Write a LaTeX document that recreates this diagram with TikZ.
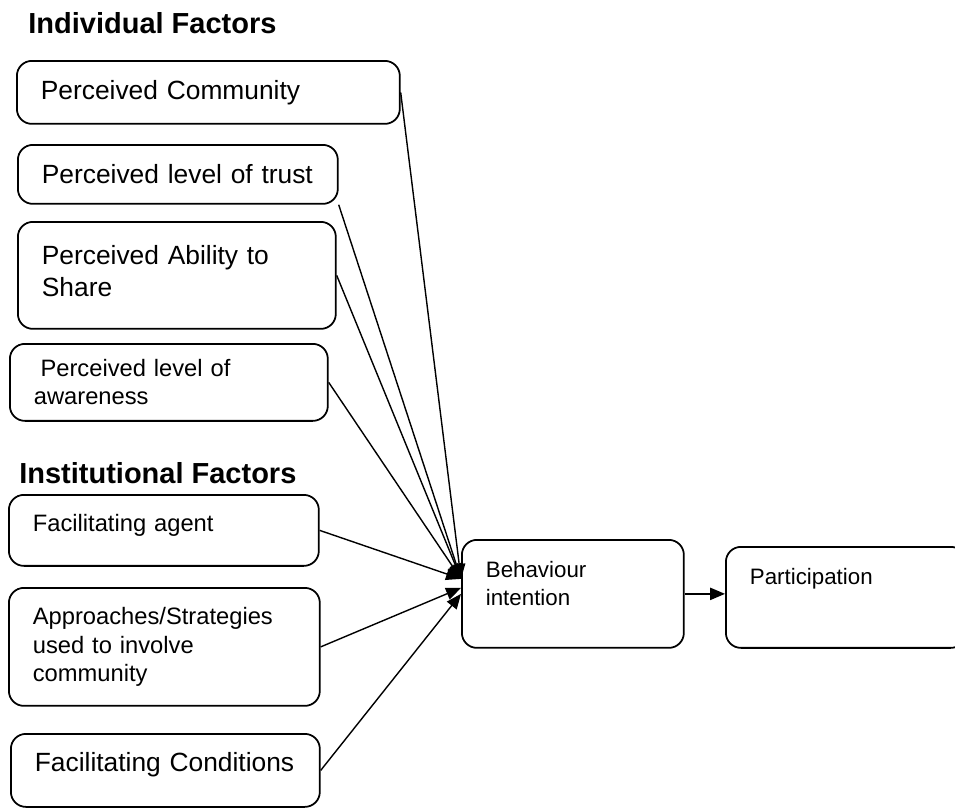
\documentclass[tikz,border=0pt]{standalone}
\usepackage{fontspec}
\setmainfont{Liberation Sans}
\usetikzlibrary{positioning}
\usetikzlibrary{arrows.meta,shapes}
\tikzstyle{factor}=[draw, rounded corners=0.3cm, line width=1pt, anchor=north west, align=left, inner xsep=0.48cm, inner ysep=0pt]
\tikzstyle{heading}=[anchor=base west, inner sep=0pt, font=\fontsize{16.5}{20}\selectfont\bfseries]
\tikzstyle{bigtext}=[font=\fontsize{15}{18.7}\selectfont]
\tikzstyle{midtext}=[font=\fontsize{13.5}{16}\selectfont]
\tikzstyle{smalltext}=[font=\fontsize{12.7}{15.9}\selectfont]
\tikzstyle{link}=[-{Triangle[length=8.5pt,width=7pt]}, line width=0.8pt]

\begin{document}
\begin{tikzpicture}[x=0.02cm, y=-0.02cm]
  \useasboundingbox (0,0) rectangle (955,808);
  \clip (0,0) rectangle (955,808);

  \node[heading] (indiv) at (28,33) {Individual Factors};
  \node[heading] (instit) at (19,483) {Institutional Factors};

  % individual factors
  \node[factor, bigtext, text width=6.70cm, minimum height=1.26cm] (comm) at (16,60) {Perceived Community};
  \node[factor, bigtext, text width=5.44cm, minimum height=1.18cm] (trust) at (17,144) {Perceived level of trust};
  \node[factor, bigtext, text width=5.40cm, minimum height=2.14cm, text depth=23.8pt] (ability) at (17,221) {Perceived Ability to\\Share};
  \node[factor, midtext, text width=5.40cm, minimum height=1.54cm] (aware) at (9,343) {\hspace*{3.8pt}Perceived level of\\awareness};

  % institutional factors
  \node[factor, midtext, text width=5.24cm, minimum height=1.42cm, text depth=8.1pt] (agent) at (8,494) {Facilitating agent};
  \node[factor, midtext, text width=5.26cm, minimum height=2.36cm] (approach) at (8,587) {Approaches/Strategies\\used to involve\\community};
  \node[factor, bigtext, text width=5.22cm, minimum height=1.46cm, text depth=9.1pt] (cond) at (10,733) {Facilitating Conditions};

  \node[factor, smalltext, text width=3.48cm, minimum height=2.16cm, text depth=27.3pt] (behav) at (461,539) {Behaviour\\intention};
  \node[factor, smalltext, text width=3.84cm, minimum height=2.02cm, text depth=23.3pt] (part) at (725,546) {Participation};

  \coordinate (hit1) at ([yshift=0.3cm]behav.west);
  \coordinate (hit2) at ([yshift=0.12cm]behav.west);
  \coordinate (hit3) at (behav.west);

  \foreach \source/\dest in {comm.east/hit1, trust.south east/hit1, ability.east/hit1, aware.east/hit1, agent.east/hit1, approach.east/hit2, cond.east/hit3}
    \draw[link] (\source) -- (\dest);

  \draw[link] (behav.east) -- (behav.east -| part.west);
\end{tikzpicture}
\end{document}
